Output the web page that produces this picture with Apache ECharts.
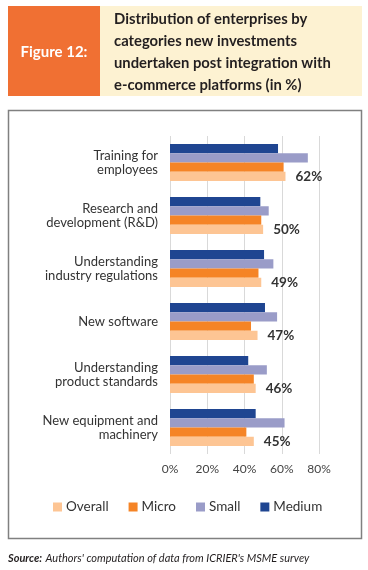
<!DOCTYPE html>
<html><head><meta charset="utf-8">
<script src="https://cdn.jsdelivr.net/npm/echarts@6/dist/echarts.min.js"></script>
<style>html,body{margin:0;padding:0;background:#fff}#c{width:368px;height:570px}</style>
</head><body><div id="c"></div>
<script>
const categories = ['Training for\nemployees','Research and\ndevelopment (R&D)','Understanding\nindustry regulations','New software','Understanding\nproduct standards','New equipment and\nmachinery'];
const overall = [62, 50, 49, 47, 46, 45];
const micro = [61, 49, 47.5, 43.5, 45, 41];
const small = [74, 53, 55.5, 57.5, 52, 61.5];
const medium = [58, 48.5, 50.5, 51, 42, 46];
const xTicks = [0, 20, 40, 60, 80];

const chart = echarts.init(document.getElementById('c'));
const F = 'Lato, "Open Sans", sans-serif';
chart.setOption({
  animation: false,
  backgroundColor: '#fff',
  graphic: [
    {type:'rect', shape:{x:8,y:6,width:92,height:90}, style:{fill:'#F07033'}},
    {type:'rect', shape:{x:100,y:6,width:262,height:90}, style:{fill:'#FDF2D2'}},
    {type:'text', x:54, y:52, style:{text:'Figure 12:', fill:'#fff', font:'bold 15px '+F, textAlign:'center', textVerticalAlign:'middle'}},
    {type:'text', x:114, y:52, style:{text:'Distribution of enterprises by\ncategories new investments\nundertaken post integration with\ne-commerce platforms (in %)', fill:'#231F20', font:'bold 14.8px '+F, lineHeight:22, textAlign:'left', textVerticalAlign:'middle'}},
    {type:'rect', shape:{x:8.5,y:110.5,width:353,height:428}, style:{fill:'none', stroke:'#808080', lineWidth:1.5}},
    {type:'text', x:8, y:558, style:{rich:{b:{font:'bold italic 11px '+F, fill:'#231F20'}, n:{font:'italic 11px '+F, fill:'#231F20'}}, text:'{b|Source:} {n|Authors\' computation of data from ICRIER\'s MSME survey}', textVerticalAlign:'middle'}}
  ],
  legend: {
    data: ['Overall','Micro','Small','Medium'],
    left: 48, top: 495, itemWidth: 9, itemHeight: 9, itemGap: 20,
    icon: 'rect',
    textStyle: {fontFamily: F, fontSize: 13.5, color: '#333', padding:[0,0,0,-1]}
  },
  grid: {left: 170, right: 49, top: 136, bottom: 116, containLabel: false},
  xAxis: {
    type: 'value', min: 0, max: 80, interval: 20,
    axisLine: {show: false}, axisTick: {show: false},
    splitLine: {lineStyle: {color: '#D9D9D9', width: 1}},
    axisLabel: {formatter: v => xTicks.includes(v) ? v + '%' : '', fontFamily: F, fontSize: 12, color: '#444', margin: 9}
  },
  yAxis: {
    type: 'category', data: categories, inverse: true,
    axisLine: {show: false}, axisTick: {show: false},
    axisLabel: {fontFamily: F, fontSize: 13, color: '#333', margin: 12, lineHeight: 14, align: 'right'}
  },
  series: [
    {name:'Medium', type:'bar', data: medium, itemStyle:{color:'#1F4591'}, barGap:'0%', barCategoryGap:'30%'},
    {name:'Small', type:'bar', data: small, itemStyle:{color:'#9A9CC8'}},
    {name:'Micro', type:'bar', data: micro, itemStyle:{color:'#F58426'}},
    {name:'Overall', type:'bar', data: overall, itemStyle:{color:'#FDC594'},
      label:{show:true, position:'right', distance:10, formatter:'{c}%', fontFamily:F, fontWeight:'bold', fontSize:13.5, color:'#333'}}
  ]
});
</script></body></html>
